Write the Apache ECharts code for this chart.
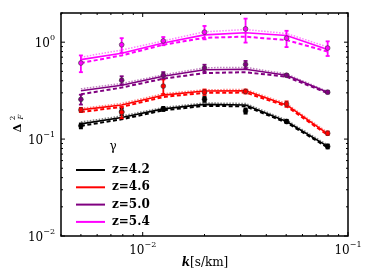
<!DOCTYPE html>
<html><head><meta charset="utf-8">
<script src="https://cdn.jsdelivr.net/npm/echarts@6/dist/echarts.min.js"></script>
<style>html,body{margin:0;padding:0;background:#fff}#c{width:374px;height:280px}</style>
</head><body><div id="c"></div>
<script>
// ---- data ----
const k = [0.005, 0.0079, 0.0126, 0.02, 0.0317, 0.0502, 0.0796];
const labels = ['z=4.2', 'z=4.6', 'z=5.0', 'z=5.4'];
const colors = ['#000000', '#ff0000', '#800080', '#ff00ff'];
// solid model
const solid42 = [0.1435, 0.167, 0.205, 0.228, 0.225, 0.152, 0.084];
const solid46 = [0.20, 0.225, 0.284, 0.313, 0.315, 0.225, 0.113];
const solid50 = [0.315, 0.36, 0.445, 0.52, 0.525, 0.456, 0.305];
const solid54 = [0.66, 0.77, 0.98, 1.19, 1.25, 1.17, 0.84];
// dashed model
const dash42 = [0.137, 0.16, 0.198, 0.22, 0.218, 0.148, 0.082];
const dash46 = [0.19, 0.215, 0.272, 0.30, 0.302, 0.218, 0.11];
const dash50 = [0.29, 0.34, 0.42, 0.48, 0.49, 0.44, 0.298];
const dash54 = [0.61, 0.73, 0.94, 1.11, 1.14, 1.05, 0.80];
// dotted model
const dot42 = [0.15, 0.173, 0.212, 0.236, 0.233, 0.157, 0.087];
const dot46 = [0.207, 0.233, 0.294, 0.323, 0.325, 0.232, 0.117];
const dot50 = [0.33, 0.375, 0.46, 0.545, 0.55, 0.47, 0.31];
const dot54 = [0.70, 0.83, 1.03, 1.28, 1.35, 1.23, 0.89];
// measurements and errors
const obs42 = [0.137, 0.192, 0.205, 0.257, 0.195, 0.152, 0.084];
const err42 = [0.008, 0.015, 0.01, 0.015, 0.012, 0.006, 0.004];
const obs46 = [0.20, 0.189, 0.352, 0.305, 0.31, 0.23, 0.115];
const err46 = [0.01, 0.025, 0.06, 0.02, 0.015, 0.015, 0.005];
const obs50 = [0.257, 0.405, 0.456, 0.54, 0.59, 0.456, 0.305];
const err50 = [0.03, 0.04, 0.035, 0.045, 0.05, 0.015, 0.01];
const obs54 = [0.61, 0.94, 1.03, 1.27, 1.37, 1.10, 0.87];
const err54 = [0.12, 0.16, 0.10, 0.20, 0.38, 0.21, 0.15];
// axis ticks
const xMajor = [0.01, 0.1];
const xMinor = [0.004, 0.005, 0.006, 0.007, 0.008, 0.009, 0.02, 0.03, 0.04, 0.05, 0.06, 0.07, 0.08, 0.09];
const yMajor = [0.01, 0.1, 1];
const yMinor = [0.02, 0.03, 0.04, 0.05, 0.06, 0.07, 0.08, 0.09, 0.2, 0.3, 0.4, 0.5, 0.6, 0.7, 0.8, 0.9, 2];

const solids = [solid42, solid46, solid50, solid54];
const dashes = [dash42, dash46, dash50, dash54];
const dots = [dot42, dot46, dot50, dot54];
const obs = [obs42, obs46, obs50, obs54];
const errs = [err42, err46, err50, err54];

const pair = (xs, ys) => xs.map((x, i) => [x, ys[i]]);
const series = [];
for (let i = 0; i < 4; i++) {
  series.push({
    type: 'line', name: labels[i] + ' dot', data: pair(k, dots[i]), showSymbol: false, silent: true,
    lineStyle: { color: colors[i], width: 1.5, type: [1.5, 1.5], opacity: 0.5 }, z: 2
  });
  series.push({
    type: 'line', name: labels[i] + ' dash', data: pair(k, dashes[i]), showSymbol: false, silent: true,
    lineStyle: { color: colors[i], width: 2, type: [4, 2.5] }, z: 3
  });
  series.push({
    type: 'line', name: labels[i], data: pair(k, solids[i]), showSymbol: false, silent: true,
    color: colors[i], lineStyle: { color: colors[i], width: 1.6 }, z: 4
  });
  const c = colors[i];
  series.push({
    type: 'custom', name: labels[i] + ' err', z: 5, silent: true,
    data: k.map((x, j) => [x, obs[i][j] - errs[i][j], obs[i][j] + errs[i][j], obs[i][j]]),
    renderItem: function (params, api) {
      const p1 = api.coord([api.value(0), api.value(1)]);
      const p2 = api.coord([api.value(0), api.value(2)]);
      const pc = api.coord([api.value(0), api.value(3)]);
      const st = { stroke: c, lineWidth: 1.8 };
      return { type: 'group', children: [
        { type: 'line', shape: { x1: p1[0], y1: p1[1], x2: p2[0], y2: p2[1] }, style: st },
        { type: 'line', shape: { x1: p1[0] - 2, y1: p1[1], x2: p1[0] + 2, y2: p1[1] }, style: st },
        { type: 'line', shape: { x1: p2[0] - 2, y1: p2[1], x2: p2[0] + 2, y2: p2[1] }, style: st },
        { type: 'circle', shape: { cx: pc[0], cy: pc[1], r: 2.4 }, style: { fill: c, stroke: i === 0 ? '#000' : '#333', lineWidth: 0.6 } }
      ] };
    }
  });
}
// ticks on all four sides
function tickSeries(vals, isX, len) {
  return {
    type: 'custom', silent: true, z: 10, clip: false,
    data: vals.map(v => isX ? [v, 1] : [0.01, v]),
    renderItem: function (params, api) {
      const cs = params.coordSys;
      const p = api.coord([api.value(0), api.value(1)]);
      const st = { stroke: '#000', lineWidth: 1 };
      if (isX) {
        return { type: 'group', children: [
          { type: 'line', shape: { x1: p[0], y1: cs.y + cs.height, x2: p[0], y2: cs.y + cs.height - len }, style: st },
          { type: 'line', shape: { x1: p[0], y1: cs.y, x2: p[0], y2: cs.y + len }, style: st }
        ] };
      }
      return { type: 'group', children: [
        { type: 'line', shape: { x1: cs.x, y1: p[1], x2: cs.x + len, y2: p[1] }, style: st },
        { type: 'line', shape: { x1: cs.x + cs.width, y1: p[1], x2: cs.x + cs.width - len, y2: p[1] }, style: st }
      ] };
    }
  };
}
series.push(tickSeries(xMajor, true, 4), tickSeries(xMinor, true, 2), tickSeries(yMajor, false, 4), tickSeries(yMinor, false, 2));

const supFmt = function (v) {
  const e = Math.log10(v);
  if (Math.abs(e - Math.round(e)) > 1e-6) return '';
  const r = Math.round(e);
  return '{b|10}{s|' + (r < 0 ? '\u2212' + (-r) : r) + '}';
};
const rich = {
  b: { fontFamily: 'DejaVu Serif', fontSize: 12, color: '#000', verticalAlign: 'bottom' },
  s: { fontFamily: 'DejaVu Serif', fontSize: 8, color: '#000', verticalAlign: 'top', padding: [0, 0, 8, 0] }
};

const chart = echarts.init(document.getElementById('c'), null, { renderer: 'canvas' });
chart.setOption({
  animation: false,
  backgroundColor: '#fff',
  grid: { left: 61, right: 26, top: 13, bottom: 44, show: true, borderColor: '#000', borderWidth: 1.5, backgroundColor: 'transparent' },
  xAxis: {
    type: 'log', logBase: 10, min: 0.004, max: 0.1,
    axisLine: { show: false }, axisTick: { show: false }, splitLine: { show: false },
    axisLabel: { formatter: supFmt, rich: rich, margin: 5, showMinLabel: true, hideOverlap: false }
  },
  yAxis: {
    type: 'log', logBase: 10, min: 0.01, max: 2,
    axisLine: { show: false }, axisTick: { show: false }, splitLine: { show: false },
    axisLabel: { formatter: supFmt, rich: rich, margin: 6, hideOverlap: false }
  },
  legend: {
    data: labels, orient: 'vertical', left: 71, top: 158, itemWidth: 29, itemHeight: 2, itemGap: 3.3,
    icon: 'rect', selectedMode: false,
    textStyle: { fontFamily: 'DejaVu Serif', fontWeight: 'bold', fontSize: 12, lineHeight: 14, color: '#000', padding: [0, 0, 0, 2] }
  },
  graphic: [
    { type: 'text', x: 113, y: 147, style: { text: '\u03b3', align: 'center', verticalAlign: 'middle', fontFamily: 'DejaVu Serif', fontSize: 12, fill: '#000' } },
    { type: 'text', x: 205, y: 263, style: { text: '{i|k}{n|[s/km]}', align: 'center', verticalAlign: 'middle',
      rich: { i: { fontFamily: 'DejaVu Serif', fontStyle: 'italic', fontWeight: 'bold', fontSize: 12, fill: '#000' },
              n: { fontFamily: 'DejaVu Serif', fontSize: 12, fill: '#000' } } } },
    { type: 'text', x: 18, y: 128, rotation: Math.PI / 2, style: { text: '\u0394', align: 'center', verticalAlign: 'middle', fontFamily: 'DejaVu Serif', fontWeight: 'bold', fontSize: 11, fill: '#000' } },
    { type: 'text', x: 13, y: 118, rotation: Math.PI / 2, style: { text: '2', align: 'center', verticalAlign: 'middle', fontFamily: 'DejaVu Serif', fontSize: 7, fill: '#000' } },
    { type: 'text', x: 21, y: 117, rotation: Math.PI / 2, style: { text: 'F', align: 'center', verticalAlign: 'middle', fontFamily: 'DejaVu Serif', fontStyle: 'italic', fontSize: 7, fill: '#000' } }
  ],
  series: series
});
</script></body></html>
